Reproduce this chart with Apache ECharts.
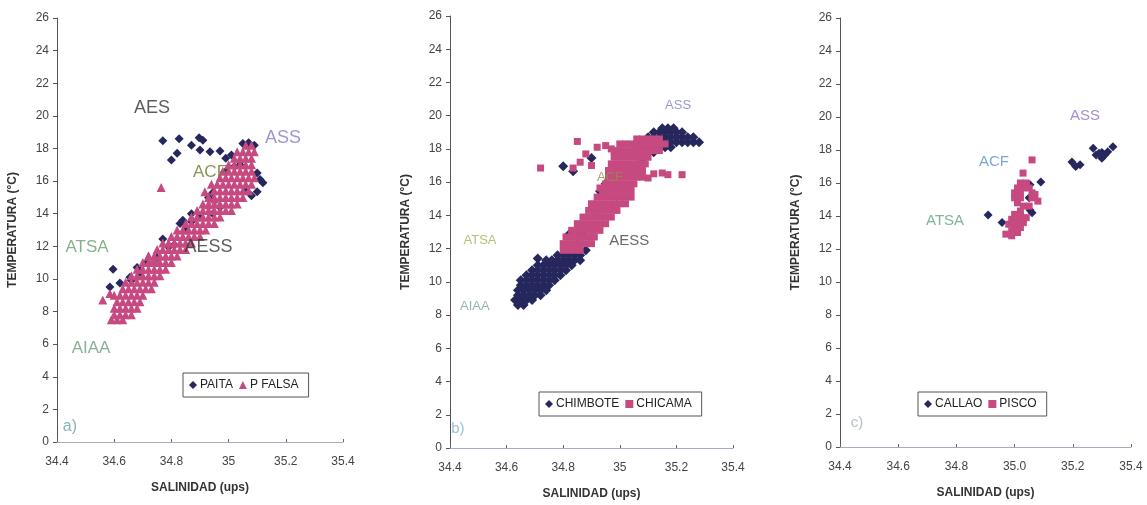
<!DOCTYPE html>
<html>
<head>
<meta charset="utf-8">
<script src="https://cdn.jsdelivr.net/npm/echarts@6/dist/echarts.min.js"></script>
<style>
  html, body { margin: 0; padding: 0; background: #ffffff; }
  #chart { width: 1147px; height: 505px; }
</style>
</head>
<body>
<div id="chart"></div>
<script>
// ---- axis ticks ----
const tempTicks = ['0','2','4','6','8','10','12','14','16','18','20','22','24','26'];
const salTicksAB = ['34.4','34.6','34.8','35','35.2','35.4'];
const salTicksC = ['34.4','34.6','34.8','35.0','35.2','35.4'];

// ---- panel a) : PAITA / P FALSA  [salinity, temperature] ----
const paita = [
  [34.77,18.47],[34.827,18.6],[34.87,18.2],[34.897,18.65],[34.91,18.5],[34.90,17.9],
  [34.935,17.8],[34.97,17.85],[35.01,17.6],[34.99,17.4],[34.82,17.7],[34.80,17.3],
  [35.05,18.3],[35.07,18.35],[35.09,18.2],[35.04,17.0],[34.945,15.3],[34.93,15.0],
  [35.10,16.5],[35.11,16.1],[35.12,15.9],[35.10,15.35],[35.08,15.1],[35.06,15.6],
  [34.97,14.4],[34.945,14.0],[34.90,13.8],[34.87,13.5],[34.84,13.6],[34.85,13.0],
  [34.83,13.4],[34.77,12.45],[34.81,12.1],[34.79,11.95],[34.75,11.3],[34.715,11.0],
  [34.68,10.7],[34.69,10.4],[34.596,10.6],[34.655,10.1],[34.62,9.75],[34.585,9.5],
  [34.66,9.9],[34.87,14.0],[34.99,16.6],[35.02,16.9]
];
const pFalsa = [
  [34.59,7.5],[34.61,7.5],[34.63,7.5],
  [34.60,7.8],[34.62,7.8],[34.64,7.8],[34.66,7.8],
  [34.60,8.2],[34.62,8.2],[34.64,8.2],[34.66,8.2],[34.68,8.2],
  [34.61,8.6],[34.63,8.6],[34.65,8.6],[34.67,8.6],[34.69,8.6],
  [34.62,9.0],[34.64,9.0],[34.66,9.0],[34.68,9.0],[34.70,9.0],
  [34.63,9.4],[34.65,9.4],[34.67,9.4],[34.69,9.4],[34.71,9.4],[34.73,9.4],
  [34.64,9.8],[34.66,9.8],[34.68,9.8],[34.70,9.8],[34.72,9.8],[34.74,9.8],
  [34.66,10.2],[34.68,10.2],[34.70,10.2],[34.72,10.2],[34.74,10.2],[34.76,10.2],
  [34.68,10.6],[34.70,10.6],[34.72,10.6],[34.74,10.6],[34.76,10.6],[34.78,10.6],
  [34.70,11.0],[34.72,11.0],[34.74,11.0],[34.76,11.0],[34.78,11.0],[34.80,11.0],
  [34.72,11.4],[34.74,11.4],[34.76,11.4],[34.78,11.4],[34.80,11.4],[34.82,11.4],
  [34.75,11.8],[34.77,11.8],[34.79,11.8],[34.81,11.8],[34.83,11.8],[34.85,11.8],
  [34.77,12.2],[34.79,12.2],[34.81,12.2],[34.83,12.2],[34.85,12.2],[34.87,12.2],
  [34.80,12.6],[34.82,12.6],[34.84,12.6],[34.86,12.6],[34.88,12.6],[34.90,12.6],
  [34.82,13.0],[34.84,13.0],[34.86,13.0],[34.88,13.0],[34.90,13.0],[34.92,13.0],
  [34.85,13.4],[34.87,13.4],[34.89,13.4],[34.91,13.4],[34.93,13.4],[34.95,13.4],
  [34.87,13.8],[34.89,13.8],[34.91,13.8],[34.93,13.8],[34.95,13.8],[34.97,13.8],
  [34.89,14.2],[34.91,14.2],[34.93,14.2],[34.95,14.2],[34.97,14.2],[34.99,14.2],[35.01,14.2],
  [34.91,14.6],[34.93,14.6],[34.95,14.6],[34.97,14.6],[34.99,14.6],[35.01,14.6],[35.03,14.6],
  [34.93,15.0],[34.95,15.0],[34.97,15.0],[34.99,15.0],[35.01,15.0],[35.03,15.0],[35.05,15.0],
  [34.95,15.4],[34.97,15.4],[34.99,15.4],[35.01,15.4],[35.03,15.4],[35.05,15.4],[35.07,15.4],
  [34.96,15.8],[34.98,15.8],[35.00,15.8],[35.02,15.8],[35.04,15.8],[35.06,15.8],[35.08,15.8],
  [34.97,16.2],[34.99,16.2],[35.01,16.2],[35.03,16.2],[35.05,16.2],[35.07,16.2],[35.09,16.2],
  [34.98,16.6],[35.00,16.6],[35.02,16.6],[35.04,16.6],[35.06,16.6],[35.08,16.6],
  [35.00,17.0],[35.02,17.0],[35.04,17.0],[35.06,17.0],[35.08,17.0],
  [35.02,17.4],[35.04,17.4],[35.06,17.4],[35.08,17.4],
  [35.03,17.8],[35.05,17.8],[35.07,17.8],[35.09,17.8],
  [35.06,18.2],[35.08,18.2],
  [34.56,8.7],[34.585,9.1],[34.60,9.0],[34.764,15.6],[34.917,15.35],[34.93,14.55],
  [34.95,14.9],[34.72,11.4],[34.74,11.2],[34.94,15.8]
];

// ---- panel b) : CHIMBOTE / CHICAMA ----
const chimbote = [
  [34.64,8.6],[34.66,8.6],
  [34.63,8.9],[34.65,8.9],[34.67,8.9],[34.69,8.9],
  [34.64,9.2],[34.66,9.2],[34.68,9.2],[34.70,9.2],[34.72,9.2],
  [34.64,9.5],[34.66,9.5],[34.68,9.5],[34.70,9.5],[34.72,9.5],[34.74,9.5],
  [34.65,9.8],[34.67,9.8],[34.69,9.8],[34.71,9.8],[34.73,9.8],[34.75,9.8],
  [34.65,10.1],[34.67,10.1],[34.69,10.1],[34.71,10.1],[34.73,10.1],[34.75,10.1],[34.77,10.1],
  [34.67,10.4],[34.69,10.4],[34.71,10.4],[34.73,10.4],[34.75,10.4],[34.77,10.4],[34.79,10.4],
  [34.69,10.7],[34.71,10.7],[34.73,10.7],[34.75,10.7],[34.77,10.7],[34.79,10.7],[34.81,10.7],
  [34.71,11.0],[34.73,11.0],[34.75,11.0],[34.77,11.0],[34.79,11.0],[34.81,11.0],[34.83,11.0],
  [34.74,11.3],[34.76,11.3],[34.78,11.3],[34.80,11.3],[34.82,11.3],[34.84,11.3],[34.86,11.3],
  [34.78,11.6],[34.80,11.6],[34.82,11.6],[34.84,11.6],[34.86,11.6],
  [34.82,11.9],[34.84,11.9],[34.86,11.9],[34.88,11.9],
  [35.08,17.8],[35.10,17.8],[35.12,17.8],
  [35.08,18.1],[35.10,18.1],[35.12,18.1],[35.14,18.1],[35.16,18.1],[35.18,18.1],
  [35.10,18.4],[35.12,18.4],[35.14,18.4],[35.16,18.4],[35.18,18.4],[35.20,18.4],[35.22,18.4],[35.24,18.4],[35.26,18.4],[35.28,18.4],
  [35.10,18.7],[35.12,18.7],[35.14,18.7],[35.16,18.7],[35.18,18.7],[35.20,18.7],[35.22,18.7],[35.24,18.7],[35.26,18.7],
  [35.12,19.0],[35.14,19.0],[35.16,19.0],[35.18,19.0],[35.20,19.0],[35.22,19.0],
  [35.15,19.25],[35.17,19.25],[35.19,19.25],
  [34.80,16.95],[34.835,16.65],[34.90,17.45],[34.91,14.35],[34.94,14.6],[34.93,15.45],
  [34.95,15.9],[34.976,16.65],[35.02,16.7],[35.08,17.25],[34.82,12.85],[34.87,13.0],
  [34.85,12.7],[34.71,11.4]
];
const chicama = [
  [34.80,11.9],[34.82,11.9],[34.84,11.9],[34.86,11.9],
  [34.80,12.3],[34.82,12.3],[34.84,12.3],[34.86,12.3],[34.88,12.3],[34.90,12.3],
  [34.81,12.7],[34.83,12.7],[34.85,12.7],[34.87,12.7],[34.89,12.7],[34.91,12.7],
  [34.83,13.1],[34.85,13.1],[34.87,13.1],[34.89,13.1],[34.91,13.1],[34.93,13.1],
  [34.85,13.5],[34.87,13.5],[34.89,13.5],[34.91,13.5],[34.93,13.5],[34.95,13.5],
  [34.87,13.9],[34.89,13.9],[34.91,13.9],[34.93,13.9],[34.95,13.9],[34.97,13.9],
  [34.89,14.3],[34.91,14.3],[34.93,14.3],[34.95,14.3],[34.97,14.3],[34.99,14.3],
  [34.90,14.7],[34.92,14.7],[34.94,14.7],[34.96,14.7],[34.98,14.7],[35.00,14.7],[35.02,14.7],
  [34.92,15.1],[34.94,15.1],[34.96,15.1],[34.98,15.1],[35.00,15.1],[35.02,15.1],[35.04,15.1],
  [34.94,15.5],[34.96,15.5],[34.98,15.5],[35.00,15.5],[35.02,15.5],[35.04,15.5],
  [34.95,15.9],[34.97,15.9],[34.99,15.9],[35.01,15.9],[35.03,15.9],[35.05,15.9],
  [34.96,16.3],[34.98,16.3],[35.00,16.3],[35.02,16.3],[35.04,16.3],[35.06,16.3],[35.08,16.3],
  [34.96,16.7],[34.98,16.7],[35.00,16.7],[35.02,16.7],[35.04,16.7],[35.06,16.7],[35.08,16.7],
  [34.97,17.1],[34.99,17.1],[35.01,17.1],[35.03,17.1],[35.05,17.1],[35.07,17.1],[35.09,17.1],
  [34.98,17.5],[35.00,17.5],[35.02,17.5],[35.04,17.5],[35.06,17.5],[35.08,17.5],[35.10,17.5],
  [34.98,17.9],[35.00,17.9],[35.02,17.9],[35.04,17.9],[35.06,17.9],[35.08,17.9],[35.10,17.9],[35.12,17.9],[35.14,17.9],
  [35.00,18.3],[35.02,18.3],[35.04,18.3],[35.06,18.3],[35.08,18.3],[35.10,18.3],[35.12,18.3],[35.14,18.3],[35.16,18.3],
  [35.06,18.6],[35.08,18.6],[35.10,18.6],[35.12,18.6],[35.14,18.6],
  [34.72,16.85],[34.85,18.45],[34.88,17.7],[34.90,17.0],[34.835,16.85],[34.86,17.2],
  [35.15,16.55],[35.17,16.45],[35.22,16.45],[35.10,16.25],[35.12,16.5],[34.93,15.65],
  [34.94,15.3],[34.92,18.1],[34.95,18.2],[34.97,18.0]
];

// ---- panel c) : CALLAO / PISCO ----
const callao = [
  [34.909,14.06],[34.957,13.6],[35.09,16.06],[35.053,15.9],[35.053,14.36],[35.06,14.2],
  [35.197,17.27],[35.225,17.1],[35.21,17.0],[35.27,18.1],[35.338,18.2],[35.29,17.8],
  [35.31,17.7],[35.30,17.5],[35.32,17.9],[35.28,17.7],[35.30,17.85],[35.05,15.1]
];
const pisco = [
  [35.06,17.4],[35.029,16.6],
  [35.02,16.0],[35.04,16.0],[35.01,15.7],[35.03,15.7],[35.05,15.7],[35.00,15.4],
  [35.02,15.4],[35.06,15.4],[35.00,15.1],[35.02,15.1],[35.06,15.1],[35.08,14.9],
  [35.01,14.8],[35.03,14.6],[35.05,14.6],[35.07,15.3],[35.04,15.9],
  [35.02,14.3],[35.00,14.1],[35.02,14.0],[35.04,13.9],[34.99,13.8],[35.01,13.7],
  [35.03,13.6],[34.98,13.5],[35.00,13.4],[35.02,13.3],[34.99,13.1],[35.01,13.0],
  [34.97,12.9],[34.99,12.8],[35.03,13.8]
];

// ---- water-mass labels [salinity, temperature, text, colour, font size] ----
const notesA = [
  [34.732,20.5,'AES','#333333',18],
  [35.19,18.65,'ASS','#8a78c8',18],
  [34.935,16.56,'ACF','#6b7a2a',17],
  [34.505,11.96,'ATSA','#6a9e6e',17],
  [34.93,11.96,'AESS','#333333',18],
  [34.519,5.77,'AIAA','#6a9e7a',17],
  [34.445,0.92,'a)','#6aa0a8',16]
];
const notesB = [
  [35.206,20.6,'ASS','#8080c0',13],
  [34.965,16.3,'ACF','#909040',13],
  [34.506,12.5,'ATSA','#a0b050',13],
  [35.033,12.44,'AESS','#444444',15],
  [34.488,8.51,'AIAA','#80a0a0',13],
  [34.428,1.13,'b)','#80b0d0',15]
];
const notesC = [
  [35.242,20.06,'ASS','#9070c0',15],
  [34.929,17.27,'ACF','#5a90d0',15],
  [34.761,13.7,'ATSA','#60a080',15],
  [34.458,1.45,'c)','#a0b0c0',15]
];

const NAVY = '#26275d';
const PINK = '#c64a80';
const FONT = '"Liberation Sans", Arial, sans-serif';

const grids = [
  { left: 57, top: 18, width: 286, height: 424 },
  { left: 450, top: 16, width: 283, height: 437 },
  { left: 840, top: 18, width: 291, height: 429 }
];

function xAxisFor(i, labels) {
  return {
    type: 'value', gridIndex: i, min: 34.4, max: 35.4, interval: 0.2,
    name: 'SALINIDAD (ups)', nameLocation: 'middle', nameGap: 40,
    nameTextStyle: { fontFamily: FONT, fontWeight: 'bold', fontSize: 12, color: '#333' },
    axisLine: { lineStyle: { color: '#a8a8c0', width: 1 } },
    axisTick: { inside: true, length: 3, lineStyle: { color: '#666' } },
    axisLabel: { margin: 14, fontFamily: FONT, fontSize: 12, color: '#444',
      formatter: (v, idx) => labels[idx] },
    splitLine: { show: false }
  };
}
function yAxisFor(i) {
  return {
    type: 'value', gridIndex: i, min: 0, max: 26, interval: 2,
    name: 'TEMPERATURA (°C)', nameLocation: 'middle', nameGap: 38, nameRotate: 90,
    nameTextStyle: { fontFamily: FONT, fontWeight: 'bold', fontSize: 12, color: '#333' },
    axisLine: { lineStyle: { color: '#555', width: 1 } },
    axisTick: { length: 4, lineStyle: { color: '#555' } },
    axisLabel: { margin: 8, fontFamily: FONT, fontSize: 12, color: '#444',
      formatter: (v, idx) => tempTicks[idx] },
    splitLine: { show: false }
  };
}
function pointSeries(name, data, i, symbol, size, color) {
  return {
    name, type: 'scatter', xAxisIndex: i, yAxisIndex: i, data,
    symbol, symbolSize: size, itemStyle: { color, opacity: 1 },
    emphasis: { disabled: true }, animation: false
  };
}
function noteSeries(notes, i) {
  return {
    type: 'scatter', xAxisIndex: i, yAxisIndex: i, symbolSize: 0, silent: true,
    animation: false, z: 5,
    data: notes.map(n => ({
      value: [n[0], n[1]], name: n[2],
      label: { show: true, position: 'inside', formatter: '{b}', color: n[3],
        fontSize: n[4], fontFamily: FONT }
    }))
  };
}
function legendFor(names, left, top) {
  return {
    data: names.map(n => ({ name: n, itemStyle: {} })), left, top, orient: 'horizontal',
    borderColor: '#555', borderWidth: 1, borderRadius: 0, padding: [6, 10, 6, 6],
    itemWidth: 8, itemHeight: 8, itemGap: 6, selectedMode: false,
    textStyle: { fontFamily: FONT, fontSize: 12, color: '#222', padding: [0, 0, 0, -2] }
  };
}

const chart = echarts.init(document.getElementById('chart'), null, { renderer: 'canvas' });
chart.setOption({
  backgroundColor: '#ffffff',
  animation: false,
  grid: grids,
  xAxis: [xAxisFor(0, salTicksAB), xAxisFor(1, salTicksAB), xAxisFor(2, salTicksC)],
  yAxis: [yAxisFor(0), yAxisFor(1), yAxisFor(2)],
  legend: [
    legendFor(['PAITA', 'P FALSA'], 183, 373),
    legendFor(['CHIMBOTE', 'CHICAMA'], 539, 392),
    legendFor(['CALLAO', 'PISCO'], 918, 392)
  ],
  series: [
    pointSeries('PAITA', paita, 0, 'diamond', 9, NAVY),
    pointSeries('P FALSA', pFalsa, 0, 'triangle', 9, PINK),
    pointSeries('CHIMBOTE', chimbote, 1, 'diamond', 10, NAVY),
    pointSeries('CHICAMA', chicama, 1, 'rect', 7, PINK),
    pointSeries('CALLAO', callao, 2, 'diamond', 9, NAVY),
    pointSeries('PISCO', pisco, 2, 'rect', 7, PINK),
    noteSeries(notesA, 0),
    noteSeries(notesB, 1),
    noteSeries(notesC, 2)
  ]
});
</script>
</body>
</html>
